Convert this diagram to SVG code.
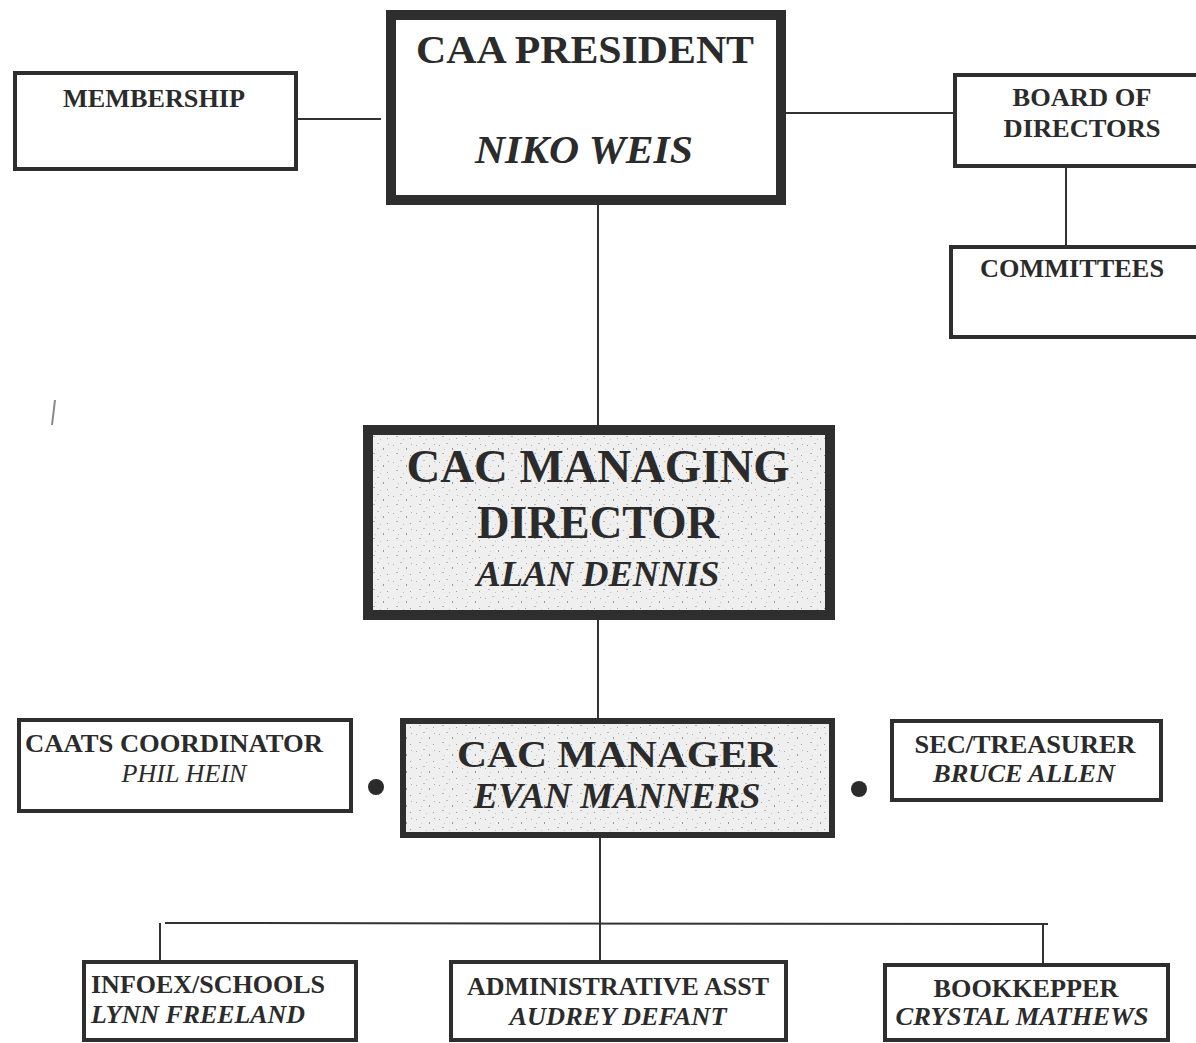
<svg xmlns="http://www.w3.org/2000/svg" width="1196" height="1043" viewBox="0 0 1196 1043">
<style>
.bx{fill:#fff;stroke:#2e2e2e;stroke-width:4}
.big{fill:none;stroke:#2e2e2e;stroke-width:10}
.sh{fill:url(#spk);stroke:#2e2e2e}
.t{font-family:"Liberation Serif","Times New Roman",serif;font-weight:bold;fill:#2b2b2b;text-anchor:middle}
.i{font-style:italic}
.r{font-weight:normal}
.ln{stroke:#333;stroke-width:2;fill:none}
</style>
<defs>
<pattern id="spk" width="23" height="17" patternUnits="userSpaceOnUse">
<rect width="23" height="17" fill="#efefef"/>
<rect x="2" y="3" width="1" height="1" fill="#aaa"/>
<rect x="9" y="1" width="2" height="1" fill="#bbb"/>
<rect x="15" y="6" width="1" height="2" fill="#999"/>
<rect x="5" y="11" width="2" height="1" fill="#b5b5b5"/>
<rect x="19" y="13" width="1" height="1" fill="#a0a0a0"/>
<rect x="12" y="14" width="1" height="1" fill="#c0c0c0"/>
<rect x="20" y="2" width="1" height="1" fill="#b0b0b0"/>
<rect x="7" y="7" width="1" height="1" fill="#c4c4c4"/>
</pattern>
</defs>
<rect width="1196" height="1043" fill="#fff"/>
<line x1="55" y1="400" x2="52" y2="425" stroke="#888" stroke-width="2"/>

<g id="connectors">
<line class="ln" x1="298" y1="119" x2="381" y2="119"/>
<line class="ln" x1="786" y1="113" x2="953" y2="113"/>
<line class="ln" x1="1066" y1="168" x2="1066" y2="245"/>
<line class="ln" x1="598" y1="205" x2="598" y2="425"/>
<line class="ln" x1="598" y1="620" x2="598" y2="718"/>
<line class="ln" x1="600" y1="838" x2="600" y2="960"/>
<line class="ln" x1="165" y1="923" x2="1048" y2="924"/>
<line class="ln" x1="160" y1="923" x2="160" y2="960"/>
<line class="ln" x1="1043" y1="924" x2="1043" y2="963"/>
<circle cx="376" cy="787" r="8" fill="#2b2b2b"/>
<circle cx="859" cy="789" r="8" fill="#2b2b2b"/>
</g>

<g id="membership">
<rect class="bx" x="15" y="73" width="281" height="96"/>
<text class="t" x="154" y="107" font-size="25" textLength="182" lengthAdjust="spacingAndGlyphs">MEMBERSHIP</text>
</g>

<g id="president">
<rect class="big" x="391" y="15" width="390" height="185" fill="#fff"/>
<text class="t" x="585" y="63" font-size="40" textLength="338" lengthAdjust="spacingAndGlyphs">CAA PRESIDENT</text>
<text class="t i" x="584" y="163" font-size="40" textLength="218" lengthAdjust="spacingAndGlyphs">NIKO WEIS</text>
</g>

<g id="board">
<rect class="bx" x="955" y="75" width="245" height="91"/>
<text class="t" x="1082" y="106" font-size="25" textLength="139" lengthAdjust="spacingAndGlyphs">BOARD OF</text>
<text class="t" x="1082" y="137" font-size="25" textLength="157" lengthAdjust="spacingAndGlyphs">DIRECTORS</text>
</g>

<g id="committees">
<rect class="bx" x="951" y="247" width="249" height="90"/>
<text class="t" x="1072" y="277" font-size="25" textLength="184" lengthAdjust="spacingAndGlyphs">COMMITTEES</text>
</g>

<g id="managing-director">
<rect class="sh" x="368" y="430" width="462" height="185" stroke-width="10"/>
<text class="t" x="598" y="482" font-size="46" textLength="383" lengthAdjust="spacingAndGlyphs">CAC MANAGING</text>
<text class="t" x="598" y="538" font-size="46" textLength="242" lengthAdjust="spacingAndGlyphs">DIRECTOR</text>
<text class="t i" x="598" y="586" font-size="36" textLength="243" lengthAdjust="spacingAndGlyphs">ALAN DENNIS</text>
</g>

<g id="manager">
<rect class="sh" x="403" y="721" width="429" height="114" stroke-width="6"/>
<text class="t" x="617" y="767" font-size="38" textLength="320" lengthAdjust="spacingAndGlyphs">CAC MANAGER</text>
<text class="t i" x="617" y="808" font-size="35" textLength="287" lengthAdjust="spacingAndGlyphs">EVAN MANNERS</text>
</g>

<g id="caats">
<rect class="bx" x="19" y="720" width="332" height="91"/>
<text class="t" x="174" y="752" font-size="25" textLength="298" lengthAdjust="spacingAndGlyphs">CAATS COORDINATOR</text>
<text class="t i r" x="184" y="782" font-size="25" textLength="125" lengthAdjust="spacingAndGlyphs">PHIL HEIN</text>
</g>

<g id="treasurer">
<rect class="bx" x="892" y="721" width="269" height="79"/>
<text class="t" x="1025" y="753" font-size="25" textLength="221" lengthAdjust="spacingAndGlyphs">SEC/TREASURER</text>
<text class="t i" x="1024" y="782" font-size="25" textLength="182" lengthAdjust="spacingAndGlyphs">BRUCE ALLEN</text>
</g>

<g id="infoex">
<rect class="bx" x="84" y="962" width="272" height="78"/>
<text class="t" x="208" y="993" font-size="25" textLength="234" lengthAdjust="spacingAndGlyphs">INFOEX/SCHOOLS</text>
<text class="t i" x="198" y="1023" font-size="25" textLength="214" lengthAdjust="spacingAndGlyphs">LYNN FREELAND</text>
</g>

<g id="admin">
<rect class="bx" x="451" y="962" width="335" height="78"/>
<text class="t" x="618" y="995" font-size="25" textLength="302" lengthAdjust="spacingAndGlyphs">ADMINISTRATIVE ASST</text>
<text class="t i" x="618" y="1025" font-size="25" textLength="217" lengthAdjust="spacingAndGlyphs">AUDREY DEFANT</text>
</g>

<g id="bookkeeper">
<rect class="bx" x="885" y="965" width="283" height="75"/>
<text class="t" x="1026" y="997" font-size="25" textLength="185" lengthAdjust="spacingAndGlyphs">BOOKKEPPER</text>
<text class="t i" x="1022" y="1025" font-size="25" textLength="253" lengthAdjust="spacingAndGlyphs">CRYSTAL MATHEWS</text>
</g>
</svg>
